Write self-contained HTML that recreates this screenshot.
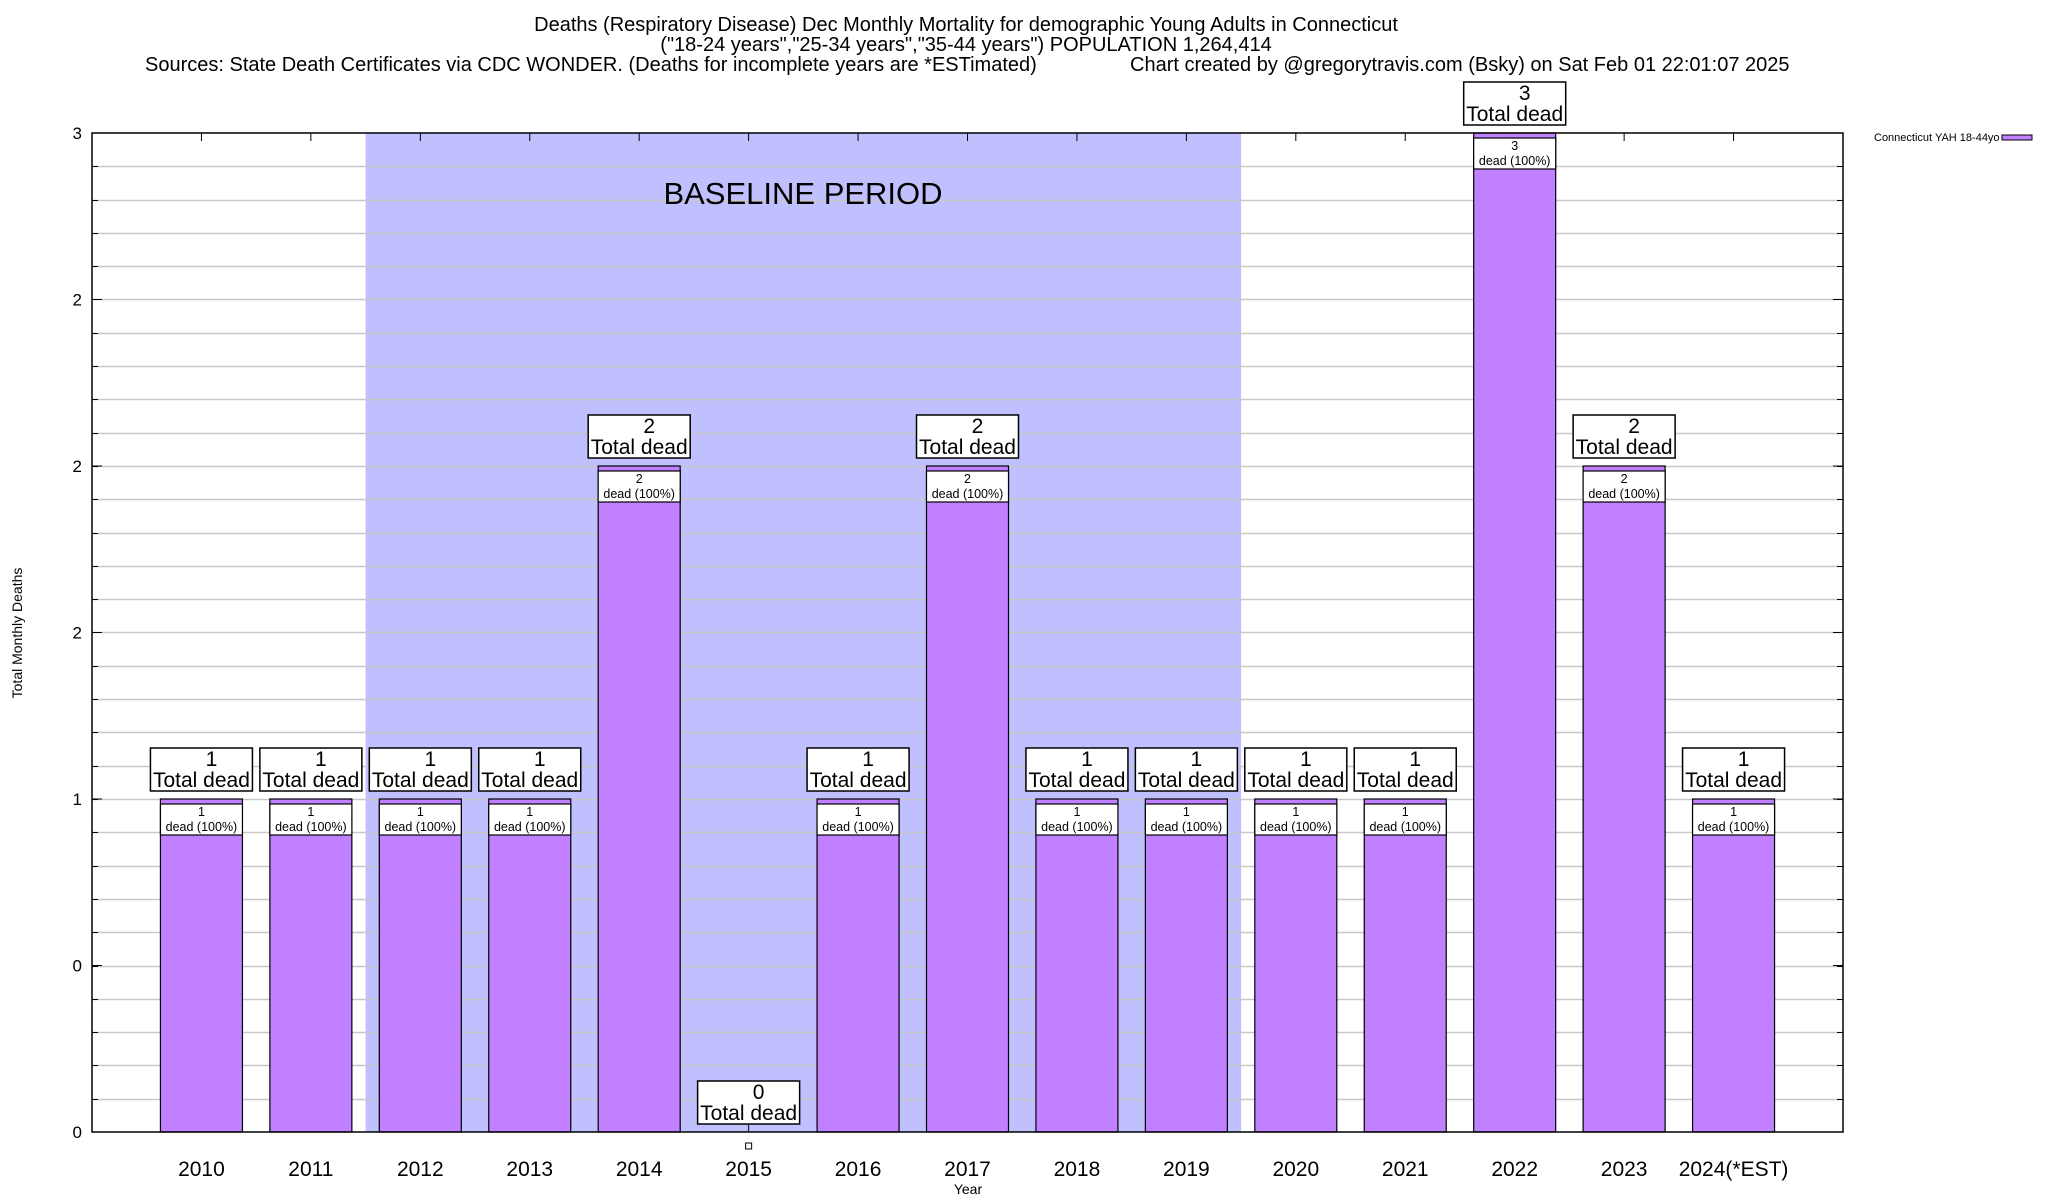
<!DOCTYPE html>
<html><head><meta charset="utf-8"><style>
html,body{margin:0;padding:0;background:#fff;}
svg{display:block;font-family:"Liberation Sans",sans-serif;}
</style></head><body>
<svg id="chart" width="2048" height="1200" viewBox="0 0 2048 1200">
<g id="titles">
<text x="966" y="31" font-size="20" text-anchor="middle">Deaths (Respiratory Disease) Dec Monthly Mortality for demographic Young Adults in Connecticut</text>
<text x="966" y="51" font-size="20" text-anchor="middle">("18-24 years","25-34 years","35-44 years") POPULATION 1,264,414</text>
<text x="145" y="71" font-size="20">Sources: State Death Certificates via CDC WONDER. (Deaths for incomplete years are *ESTimated)</text>
<text x="1130" y="71" font-size="20">Chart created by @gregorytravis.com (Bsky) on Sat Feb 01 22:01:07 2025</text>
</g>
<g id="plot"></g>
<text x="1874" y="141" font-size="11">Connecticut YAH 18-44yo</text>
<rect x="2002" y="135" width="30" height="5" fill="#c080ff" stroke="#000"/>
<text x="968" y="1194" font-size="14" text-anchor="middle">Year</text>
<text transform="translate(22,633) rotate(-90)" font-size="14" text-anchor="middle">Total Monthly Deaths</text>
</svg>
<script>
const categories = ["2010","2011","2012","2013","2014","2015","2016","2017","2018","2019","2020","2021","2022","2023","2024(*EST)"];
const values = [1,1,1,1,2,0,1,2,1,1,1,1,3,2,1];
const yTicks = [0,0.5,1,1.5,2,2.5,3];
const yTickLabels = ["0","0","1","2","2","2","3"];
const baselineStart = 1.5, baselineEnd = 9.5;

const L=92,R=1843,T=133,B=1132, NS="http://www.w3.org/2000/svg";
const xs = i => L + (i+1)*(R-L)/16;
const ys = v => B - v/3*(B-T);
const g = document.getElementById('plot');
function mk(tag, attrs, parent){const e=document.createElementNS(NS,tag);for(const k in attrs)e.setAttribute(k,attrs[k]);(parent||g).appendChild(e);return e;}

let e = mk('rect',{x:xs(baselineStart),y:T,width:xs(baselineEnd)-xs(baselineStart),height:B-T,fill:'#c0c0ff'});



for(let v=0.1; v<3; v+=0.1){
  const y=Math.round(ys(v))+0.5;
  e=mk('line',{x1:L,x2:R,y1:y,y2:y,stroke:'#c8c8c8','stroke-width':1.5});
  
  
  mk('line',{x1:L,x2:L+6,y1:y,y2:y,stroke:'#000'});
  mk('line',{x1:R-6,x2:R,y1:y,y2:y,stroke:'#000'});
}
e = mk('text',{x:803,y:204,'font-size':31,'text-anchor':'middle'}); e.textContent='BASELINE PERIOD';


yTicks.forEach((t,i)=>{
  const y=ys(t);
  mk('line',{x1:L,x2:L+10,y1:y,y2:y,stroke:'#000'});
  mk('line',{x1:R-10,x2:R,y1:y,y2:y,stroke:'#000'});
  const tx=mk('text',{x:82,y:y+6,'font-size':17,'text-anchor':'end'}); tx.textContent=yTickLabels[i];
  
  
});
const bw=82;
categories.forEach((c,i)=>{
  const cx=xs(i), v=values[i], yt=ys(v);
  mk('line',{x1:cx,x2:cx,y1:T,y2:T+8,stroke:'#000'});
  const lb=mk('text',{x:cx,y:1176,'font-size':21,'text-anchor':'middle'}); lb.textContent=c;
  
  
  if(v>0){
    const b=mk('rect',{x:cx-bw/2,y:yt,width:bw,height:B-yt,fill:'#c080ff',stroke:'#000','stroke-width':1.2});
    
    
    const ib=mk('rect',{x:cx-bw/2,y:yt+5,width:bw,height:31,fill:'#fff',stroke:'#000','stroke-width':1.2});
    
    
    let t=mk('text',{x:cx,y:yt+17,'font-size':12.5,'text-anchor':'middle'}); t.textContent=v;
    t=mk('text',{x:cx,y:yt+32,'font-size':12.5,'text-anchor':'middle'}); t.textContent='dead (100%)';
  } else {
    mk('line',{x1:cx,x2:cx,y1:B-10,y2:B,stroke:'#000'});
    mk('rect',{x:cx-3,y:1143,width:6,height:6,fill:'#fff',stroke:'#000'});
  }
  const by = v>0 ? yt-51 : B-51;
  const ob=mk('rect',{x:cx-51,y:by,width:102,height:43,fill:'#fff',stroke:'#000','stroke-width':1.5});
  
  
  let t=mk('text',{x:cx+10,y:by+18,'font-size':21,'text-anchor':'middle'}); t.textContent=v;
  t=mk('text',{x:cx,y:by+39,'font-size':21,'text-anchor':'middle'}); t.textContent='Total dead';
});
e=mk('rect',{x:L,y:T,width:R-L,height:B-T,fill:'none',stroke:'#000','stroke-width':1.5});


</script>
</body></html>
